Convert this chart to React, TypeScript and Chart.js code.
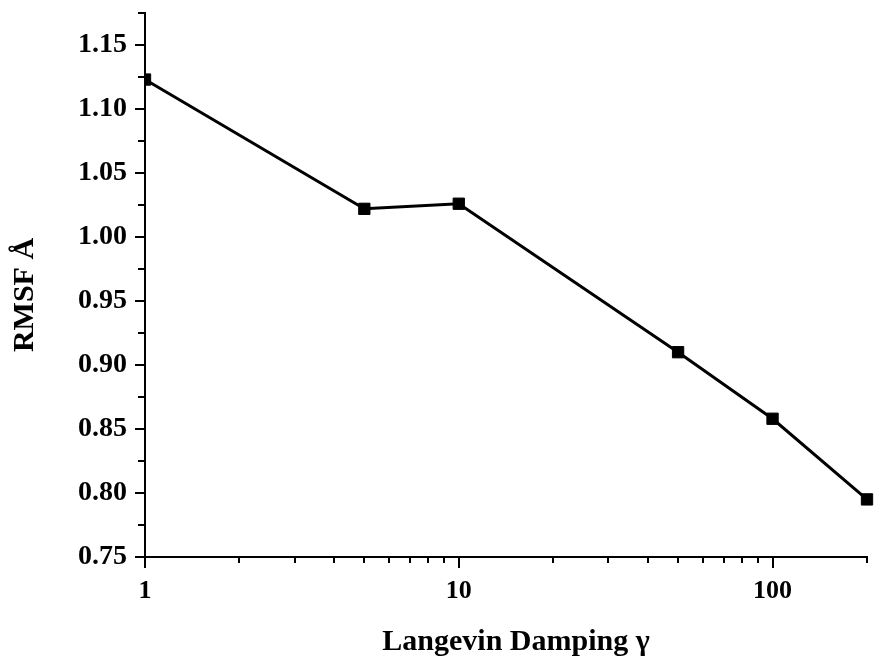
import React, { useEffect, useRef } from 'react';
import { Chart, registerables } from 'chart.js';

Chart.register(...registerables);

// Langevin damping coefficient (log axis) and the resulting RMSF
const dampingValues = [1, 5, 10, 50, 100, 200];
const rmsfValues = [1.123, 1.022, 1.026, 0.91, 0.858, 0.795];

// Axis ticks
const xTickValues = [1, 2, 3, 4, 5, 6, 7, 8, 9, 10, 20, 30, 40, 50, 60, 70, 80, 90, 100, 200];
const xTickLabels = ['1', '10', '100'];
const yMin = 0.75;
const yMax = 1.175;
const yStep = 0.025;

// Axis titles
const xTitle = 'Langevin Damping γ';
const yTitle = 'RMSF Å';

const FONT = "'Liberation Serif', 'Times New Roman', serif";

// Draws outward tick marks, long for labelled ticks, short for minor ones
const tickMarks = {
  id: 'tickMarks',
  afterDraw(chart: any) {
    const { ctx } = chart;
    const xs = chart.scales.x;
    const ys = chart.scales.y;
    ctx.save();
    ctx.strokeStyle = '#000';
    ctx.lineWidth = 2;
    ctx.beginPath();
    xs.ticks.forEach((t: any) => {
      const px = Math.round(xs.getPixelForValue(t.value));
      const lg = Math.log10(t.value);
      const major = Math.abs(lg - Math.round(lg)) < 1e-9;
      const len = major ? 11 : 6;
      ctx.moveTo(px, xs.top);
      ctx.lineTo(px, xs.top + len);
    });
    ys.ticks.forEach((t: any) => {
      const py = Math.round(ys.getPixelForValue(t.value));
      const major = Math.round(t.value * 1000) % 50 === 0;
      const len = major ? 10 : 7;
      ctx.moveTo(ys.right, py);
      ctx.lineTo(ys.right - len, py);
    });
    ctx.stroke();
    ctx.restore();
  },
};

// Axis titles, placed beside the plot area
const axisTitles = {
  id: 'axisTitles',
  afterDraw(chart: any) {
    const { ctx, chartArea } = chart;
    ctx.save();
    ctx.fillStyle = '#000';
    ctx.font = `bold 30px ${FONT}`;
    ctx.textAlign = 'center';
    ctx.textBaseline = 'alphabetic';
    ctx.fillText(xTitle, (chartArea.left + chartArea.right) / 2 + 10, chart.height - 8);
    ctx.translate(33, (chartArea.top + chartArea.bottom) / 2 + 10);
    ctx.rotate(-Math.PI / 2);
    ctx.fillText(yTitle, 0, 0);
    ctx.restore();
  },
};

export default function App() {
  const canvasRef = useRef<HTMLCanvasElement | null>(null);

  useEffect(() => {
    const canvas = canvasRef.current;
    if (!canvas) return;
    const chart = new Chart(canvas, {
      type: 'line',
      data: {
        datasets: [
          {
            data: dampingValues.map((x, i) => ({ x, y: rmsfValues[i] })),
            borderColor: '#000',
            borderWidth: 3,
            backgroundColor: '#000',
            pointStyle: 'rect',
            pointRadius: 8,
            pointHoverRadius: 8,
            pointBackgroundColor: '#000',
            pointBorderColor: '#000',
            pointBorderWidth: 1,
            tension: 0,
            clip: { left: 1, right: 12, top: 12, bottom: 12 } as any,
          },
        ],
      },
      options: {
        animation: false,
        responsive: true,
        maintainAspectRatio: false,
        layout: { padding: { left: 0, right: 8, top: 13, bottom: 0 } },
        plugins: { legend: { display: false }, tooltip: { enabled: false } },
        scales: {
          x: {
            type: 'logarithmic',
            min: 1,
            max: 200,
            afterBuildTicks: (scale: any) => {
              scale.ticks = xTickValues.map((v) => ({ value: v }));
            },
            afterFit: (scale: any) => {
              scale.height = 101;
              scale.paddingLeft = 0;
              scale.paddingRight = 0;
            },
            grid: { display: false, tickLength: 11 },
            border: { display: true, color: '#000', width: 2 },
            ticks: {
              autoSkip: false,
              maxRotation: 0,
              padding: 8,
              color: '#000',
              font: { family: FONT, size: 26, weight: 'bold' },
              callback: (v: any) => (xTickLabels.includes(String(v)) ? String(v) : ''),
            },
            title: { display: false },
          },
          y: {
            type: 'linear',
            min: yMin,
            max: yMax,
            afterFit: (scale: any) => {
              scale.width = 145;
              scale.paddingTop = 0;
              scale.paddingBottom = 0;
            },
            grid: { display: false, tickLength: 10 },
            border: { display: true, color: '#000', width: 2 },
            ticks: {
              stepSize: yStep,
              autoSkip: false,
              padding: 8,
              color: '#000',
              font: { family: FONT, size: 28, weight: 'bold' },
              callback: (v: any) => {
                const n = Number(v);
                return Math.round(n * 1000) % 50 === 0 ? n.toFixed(2) : '';
              },
            },
            title: { display: false },
          },
        },
      },
      plugins: [tickMarks, axisTitles],
    });
    return () => chart.destroy();
  }, []);

  return (
    <div style={{ position: 'fixed', left: 0, top: 0, width: 876, height: 658, background: '#fff' }}>
      <canvas ref={canvasRef} />
    </div>
  );
}
